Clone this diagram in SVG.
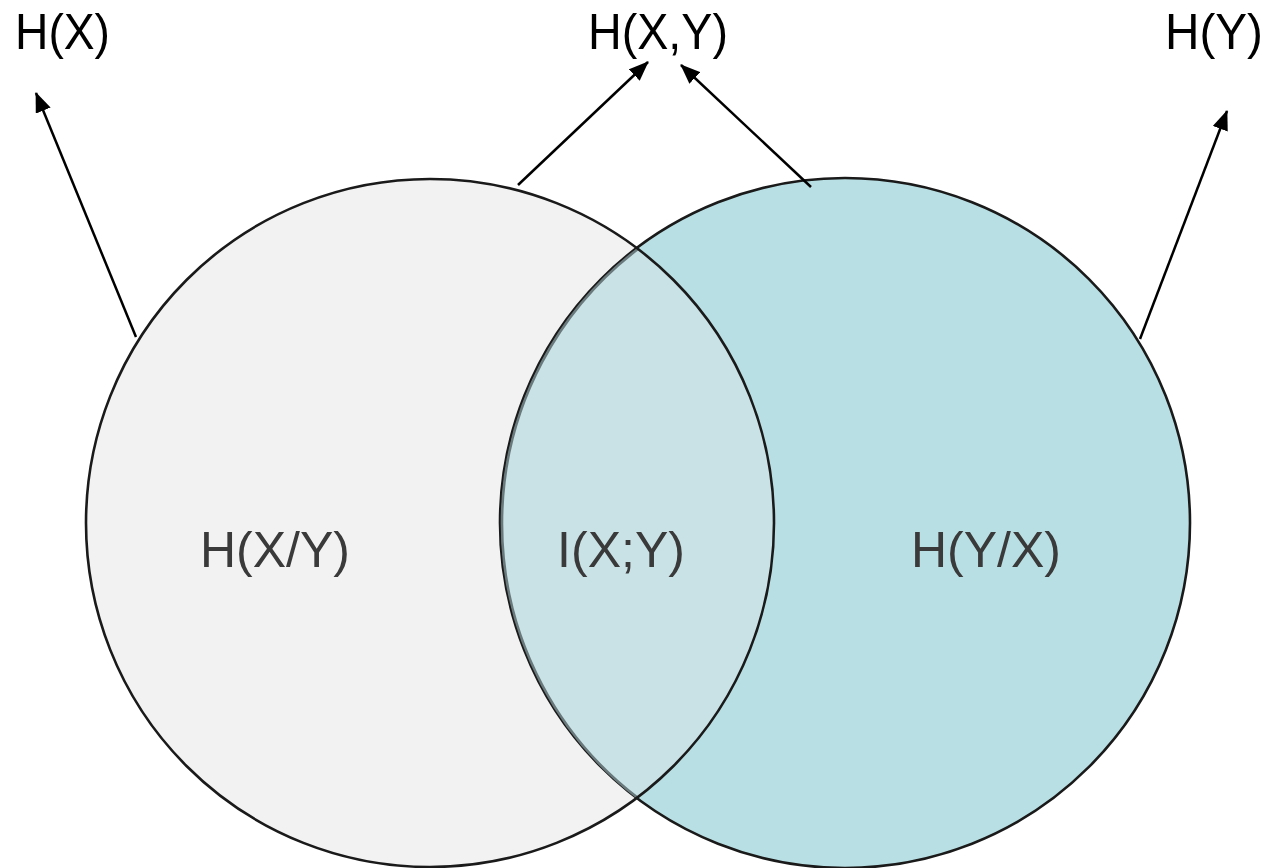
<svg xmlns="http://www.w3.org/2000/svg" width="1269" height="868" viewBox="0 0 1269 868">
<style>
.lbl{font-family:"Liberation Sans",Arial,sans-serif;font-size:50px;fill:#000}
.in{font-family:"Liberation Sans",Arial,sans-serif;font-size:50px;fill:#3a3a3a;text-anchor:middle}
.edge{fill:none;stroke:#000;stroke-width:2.5}
.ring{fill:none;stroke:#1a1a1a;stroke-width:2.6}
</style>
<defs>
<marker id="ah" markerUnits="userSpaceOnUse" markerWidth="20" markerHeight="16" refX="19" refY="8" orient="auto">
<path d="M0,0 L20,8 L0,16 z" fill="#000"/>
</marker>
</defs>
<rect width="1269" height="868" fill="#fff"/>
<g id="setX"><circle cx="430" cy="523" r="344" fill="#f2f2f2"/></g>
<g id="setY"><circle cx="845" cy="523" r="345" fill="#b8e0e4"/></g>
<g id="overlap">
<path d="M638,249 A344,344 0 0 1 638,798 A345,345 0 0 1 638,249 z" fill="#c9e2e6"/>
</g>
<g id="outlines">
<circle cx="845" cy="523" r="345" class="ring"/>
<path d="M638,249 A345,345 0 0 0 638,798" fill="none" stroke="#6a7a7c" stroke-width="2.6"/>
<circle cx="430" cy="523" r="344" class="ring"/>
</g>
<g id="labels-inner">
<text class="in" x="275" y="567">H(X/Y)</text>
<text class="in" x="621" y="567">I(X;Y)</text>
<text class="in" x="986" y="567">H(Y/X)</text>
</g>
<g id="labels-top">
<text class="lbl" x="15" y="49" textLength="95" lengthAdjust="spacingAndGlyphs">H(X)</text>
<text class="lbl" x="588" y="49" textLength="140" lengthAdjust="spacingAndGlyphs">H(X,Y)</text>
<text class="lbl" x="1165" y="49" textLength="98" lengthAdjust="spacingAndGlyphs">H(Y)</text>
</g>
<g id="connectors">
<line class="edge" x1="136" y1="337" x2="36" y2="93" marker-end="url(#ah)"/>
<line class="edge" x1="518" y1="185" x2="648" y2="62" marker-end="url(#ah)"/>
<line class="edge" x1="811" y1="187" x2="681" y2="65" marker-end="url(#ah)"/>
<line class="edge" x1="1140" y1="339" x2="1227" y2="111" marker-end="url(#ah)"/>
</g>
</svg>
